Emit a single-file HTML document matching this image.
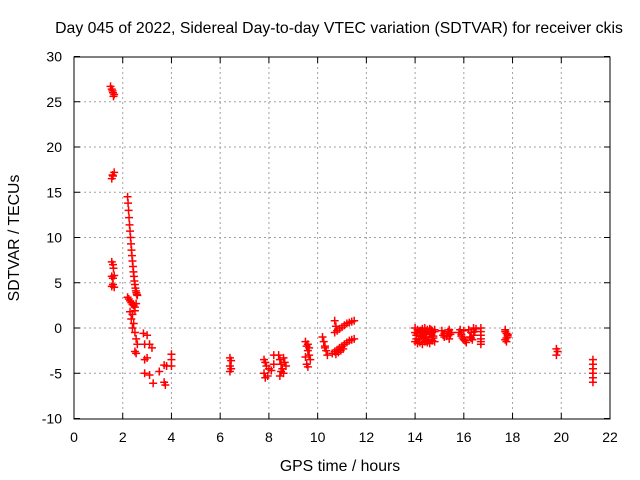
<!DOCTYPE html>
<html><head><meta charset="utf-8"><style>
html,body{margin:0;padding:0;background:#fff;width:640px;height:480px;overflow:hidden}
svg text{font-family:"Liberation Sans",sans-serif;font-size:14px;fill:#000}
svg text.big{font-size:15.8px}
</style></head><body>
<svg id="chart" width="640" height="480" viewBox="0 0 640 480" xmlns="http://www.w3.org/2000/svg">
<rect width="640" height="480" fill="#fff"/>
<text class="big" x="339" y="33" text-anchor="middle">Day 045 of 2022, Sidereal Day-to-day VTEC variation (SDTVAR) for receiver ckis</text>
<g id="grid"></g>
<g id="axes"></g>
<g id="points"></g>
<rect x="74" y="57" width="536" height="362" fill="none" stroke="#000" stroke-width="1"/>
<text class="big" x="340" y="471" text-anchor="middle">GPS time / hours</text>
<text class="big" x="19" y="238" text-anchor="middle" transform="rotate(-90 19 238)">SDTVAR / TECUs</text>
</svg>
<script>
const xTicks=[0,2,4,6,8,10,12,14,16,18,20,22];
const yTicks=[-10,-5,0,5,10,15,20,25,30];
const timeHours=[1.5,1.55,1.6,1.62,1.58,1.65,1.55,1.6,1.65,1.58,1.55,1.6,1.62,1.55,1.6,1.65,1.55,1.6,1.65,
2.2,2.22,2.24,2.26,2.28,2.3,2.32,2.34,2.36,2.38,2.4,2.42,2.44,2.46,2.48,2.5,2.52,2.54,2.56,2.58,2.6,
2.2,2.25,2.3,2.35,2.4,2.45,2.5,2.55,2.3,2.4,2.5,2.35,2.45,2.4,2.5,2.55,2.6,2.5,2.55,
2.85,3.0,2.9,3.1,2.9,3.0,2.9,3.1,3.2,3.25,3.5,
3.7,3.75,3.7,3.8,4.0,4.0,4.0,
6.4,6.45,6.4,6.45,6.4,
7.8,7.85,7.9,7.8,7.95,7.85,8.0,8.1,8.2,8.2,
8.4,8.45,8.5,8.55,8.6,8.45,8.5,8.65,8.7,8.6,
9.5,9.55,9.6,9.65,9.7,9.55,9.6,9.65,9.5,9.6,
10.2,10.25,10.3,10.35,10.4,10.3,
10.6,10.7,10.8,10.9,11.0,11.1,11.2,11.3,11.4,11.5,10.75,10.85,10.95,11.05,
10.7,10.8,10.9,11.0,11.1,11.2,11.3,11.4,11.5,10.7,10.75,
14.0,14.1,14.2,14.3,14.4,14.5,14.6,14.7,14.8,14.0,14.1,14.2,14.3,14.4,14.5,14.6,14.7,14.8,14.05,14.25,14.45,14.65,14.15,14.35,14.55,14.75,
14.0,14.1,14.2,14.3,14.4,14.5,14.6,14.7,14.8,14.05,14.15,14.25,14.35,14.45,14.55,14.65,14.75,
15.1,15.2,15.3,15.4,15.5,15.2,15.4,15.15,15.35,15.45,
15.8,15.9,16.0,16.1,15.85,15.95,16.05,16.2,16.3,16.4,16.5,16.25,16.35,16.45,15.9,16.0,16.3,16.4,
16.7,16.7,16.7,16.7,16.7,16.7,
17.7,17.75,17.8,17.7,17.75,17.8,17.7,17.75,17.8,
19.8,19.85,19.8,
21.3,21.3,21.3,21.3,21.3,21.3];
const sdtvarValues=[26.7,26.4,26.0,25.6,26.2,25.8,16.5,16.8,17.2,16.9,7.3,7.0,6.6,5.7,5.5,5.8,4.6,4.8,4.5,
14.5,13.8,13.0,12.2,11.4,10.7,10.0,9.3,8.6,8.0,7.4,6.8,6.2,5.7,5.2,4.8,4.4,4.1,3.9,3.7,3.6,
3.4,3.2,3.0,2.8,2.6,2.5,2.3,2.7,1.8,1.5,1.9,1.0,0.5,0.0,-0.5,-1.2,-1.8,-2.6,-2.8,
-0.6,-0.8,-1.8,-1.8,-3.5,-3.3,-5.0,-5.2,-2.2,-6.1,-4.8,
-6.0,-6.3,-4.1,-4.2,-4.2,-2.9,-3.5,
-3.3,-3.6,-4.2,-4.5,-4.8,
-3.5,-3.8,-4.2,-5.0,-5.3,-5.5,-4.5,-4.7,-3.0,-4.0,
-3.0,-3.5,-4.0,-4.5,-5.0,-5.3,-4.8,-3.8,-4.2,-3.3,
-1.5,-2.0,-2.5,-3.0,-3.5,-4.0,-4.3,-2.2,-3.2,-1.8,
-1.0,-1.5,-2.0,-2.5,-3.0,-2.2,
-2.8,-2.6,-2.4,-2.2,-2.0,-1.8,-1.6,-1.4,-1.3,-1.2,-2.9,-2.7,-2.5,-2.3,
-0.5,-0.3,-0.1,0.1,0.3,0.5,0.6,0.7,0.8,0.8,0.2,
0.0,-0.2,-0.3,-0.1,0.0,-0.2,-0.1,-0.3,-0.2,-1.5,-1.7,-1.6,-1.8,-1.5,-1.6,-1.7,-1.4,-1.5,-0.8,-0.9,-1.0,-0.7,-1.2,-1.1,-1.3,-0.9,
-0.5,-0.6,-0.4,-0.6,-0.5,-0.4,-0.6,-0.5,-0.4,-1.2,-1.3,-0.3,-1.0,-0.7,-1.4,-0.2,-1.1,
-0.3,-0.6,-0.9,-1.2,-0.5,-1.0,-0.2,-0.8,-0.4,-0.7,
-0.5,-0.9,-1.3,-1.6,-0.2,-1.1,-1.4,-0.2,-0.5,-0.8,-0.1,-1.0,-1.3,-0.4,-0.7,-0.3,-1.1,0.0,
0.0,-0.4,-0.8,-1.2,-1.5,-1.8,
-0.2,-0.6,-1.0,-1.3,-1.5,-0.8,-0.4,-1.1,-0.7,
-2.3,-2.6,-3.0,
-3.5,-4.0,-4.5,-5.0,-5.5,-6.0];
const NS='http://www.w3.org/2000/svg';
const X=v=>74+v*(536/22);
const Y=v=>328-v*(362/40);
function mk(t,a,p){const e=document.createElementNS(NS,t);for(const k in a)e.setAttribute(k,a[k]);p.appendChild(e);return e;}
const grid=document.getElementById('grid'),axes=document.getElementById('axes'),pts=document.getElementById('points');
xTicks.forEach(t=>{
  const x=X(t);
  if(t>0&&t<22){const l=mk('line',{x1:x,y1:57,x2:x,y2:419,stroke:'#a0a0a0','stroke-dasharray':'2,3'},grid);
  
  }
  mk('line',{x1:x,y1:419,x2:x,y2:413,stroke:'#000'},axes);
  mk('line',{x1:x,y1:57,x2:x,y2:63,stroke:'#000'},axes);
  const tx=mk('text',{x:x,y:442,'text-anchor':'middle'},axes);tx.textContent=t;
  
  
});
yTicks.forEach(t=>{
  const y=Y(t);
  if(t>-10&&t<30){const l=mk('line',{x1:74,y1:y,x2:610,y2:y,stroke:'#a0a0a0','stroke-dasharray':'2,3'},grid);
  
  }
  mk('line',{x1:74,y1:y,x2:80,y2:y,stroke:'#000'},axes);
  mk('line',{x1:610,y1:y,x2:604,y2:y,stroke:'#000'},axes);
  const tx=mk('text',{x:62,y:y+5,'text-anchor':'end'},axes);tx.textContent=t;
  
  
});
timeHours.forEach((h,i)=>{
  const x=X(h),y=Y(sdtvarValues[i]);
  const p=mk('path',{d:`M${x-4} ${y}H${x+4}M${x} ${y-4}V${y+4}`,stroke:'#f00','stroke-width':1.5},pts);
  
  
});
</script>
</body></html>
